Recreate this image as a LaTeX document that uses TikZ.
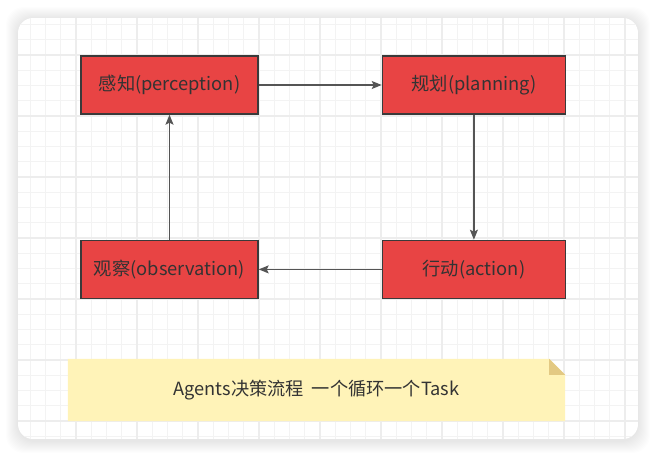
\documentclass[tikz,border=0pt]{standalone}
\usepackage{fontspec}
\setmainfont{Noto Sans CJK SC}
\usetikzlibrary{positioning, arrows.meta}
\usepackage{xcolor}

\definecolor{boxred}{HTML}{E84444}
\definecolor{boxline}{HTML}{3A3A3A}
\definecolor{textgray}{HTML}{333333}
\definecolor{linegray}{HTML}{555555}
\definecolor{notefill}{HTML}{FFF3B8}
\definecolor{foldfill}{HTML}{E3C983}
\definecolor{gridminor}{HTML}{F3F3F3}
\definecolor{gridmajor}{HTML}{EDEDED}

\begin{document}
\begin{tikzpicture}[
    x=1pt, y=-1pt,
    box/.style={
        rectangle,
        fill=boxred, draw=boxline, line width=1.4pt,
        minimum width=177pt,
        minimum height=58pt,
        align=center, text=textgray,
        font=\fontsize{18.3}{21}\selectfont
    },
    widebox/.style={box, minimum width=183pt},
    notebox/.style={
        rectangle,
        minimum width=497pt,
        minimum height=62pt,
        text=textgray,
        font=\fontsize{18.2}{21}\selectfont
    },
    minorgrid/.style={draw=gridminor, line width=1.3pt},
    majorgrid/.style={draw=gridmajor, line width=1.8pt},
    arrow/.style={-{Stealth[length=10pt,width=8pt,inset=2pt]}, line width=1.2pt, draw=linegray, fill=textgray}
]
\useasboundingbox (0,0) rectangle (656,457);

% Card with soft shadow
\foreach \s in {1,...,12}
    \fill[black, opacity=0.007, rounded corners=18pt] (18-\s,19-\s) rectangle (638+\s,441+\s);
\begin{scope}
    \clip[rounded corners=15pt] (18,18) rectangle (638,439);
    \fill[white] (18,18) rectangle (638,439);
    \foreach \gx in {0,...,41}
        \draw[minorgrid] ({15+15.25*\gx},18) -- ({15+15.25*\gx},439);
    \foreach \gy in {0,...,28}
        \draw[minorgrid] (18,{9.25+15.25*\gy}) -- (638,{9.25+15.25*\gy});
    \foreach \gx in {0,...,10}
        \draw[majorgrid] ({15+61*\gx},18) -- ({15+61*\gx},439);
    \foreach \gy in {0,...,6}
        \draw[majorgrid] (18,{55+61*\gy}) -- (638,{55+61*\gy});
\end{scope}

% Nodes
\node[box] (perc) at (169.5,85) {感知(perception)};
\node[widebox, right=123pt of perc] (plan) {规划(planning)};
\node[widebox, below=125pt of plan] (act) {行动(action)};
\node[box, below=125pt of perc] (obs) {观察(observation)};

% Arrows
\draw[arrow] (perc) -- (plan);
\draw[arrow] (plan) -- (act);
\draw[arrow] (act) -- (obs);
\draw[arrow] (obs) -- (perc);

% Note
\node[notebox] (note) at (316.5,390) {};
\fill[notefill] (note.south west) -- (note.north west)
    -- ([xshift=-16pt]note.north east) -- ([yshift=-16pt]note.north east)
    -- (note.south east) -- cycle;
\fill[foldfill] ([xshift=-16pt]note.north east)
    -- ([xshift=-16pt,yshift=-16pt]note.north east)
    -- ([yshift=-16pt]note.north east) -- cycle;
\node[notebox] at (note.center) {Agents决策流程\ \ 一个循环一个Task};

\end{tikzpicture}
\end{document}
